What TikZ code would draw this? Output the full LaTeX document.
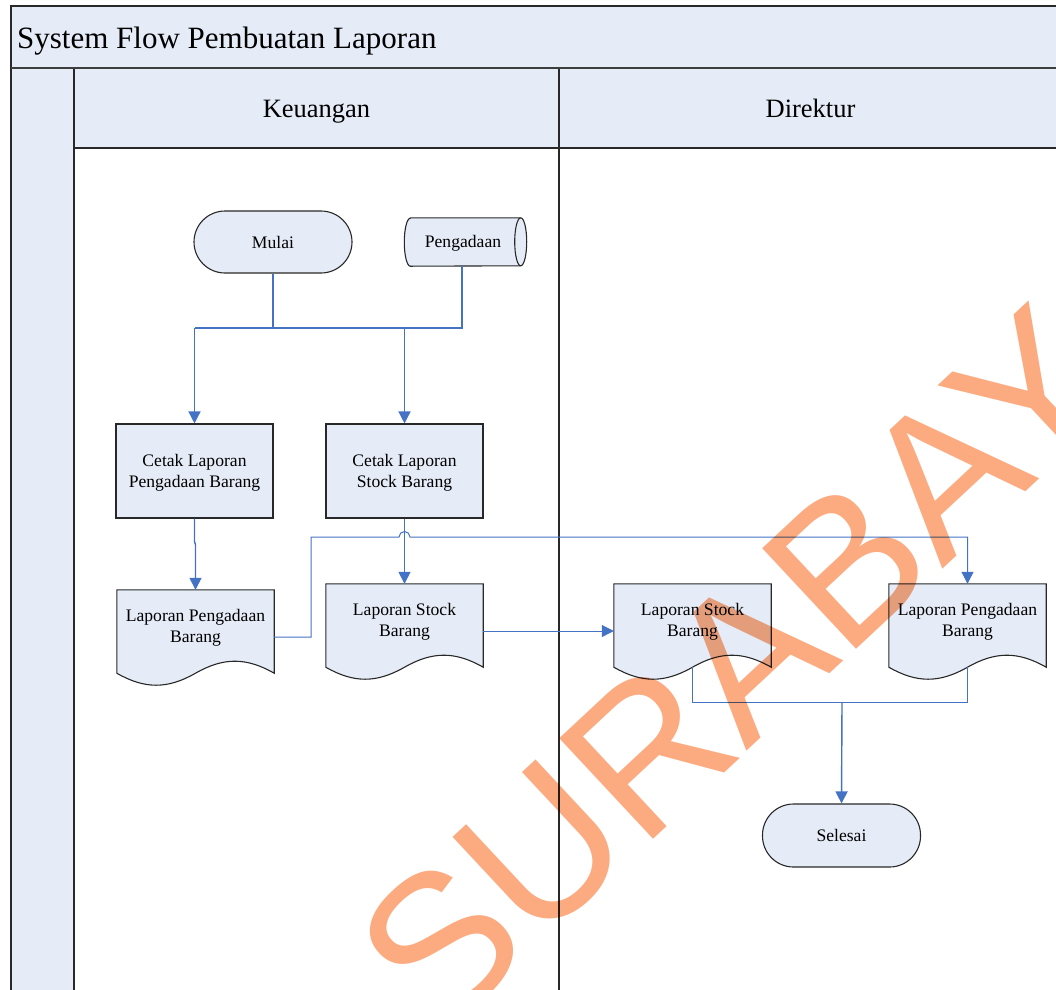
\documentclass[tikz,border=0pt]{standalone}
\usepackage{fontspec}
\setmainfont{Liberation Serif}
\newfontfamily\markfont{Liberation Sans}
\usetikzlibrary{arrows.meta}
\pgfdeclarelayer{lanes}
\pgfdeclarelayer{shapes}
\pgfsetlayers{lanes,shapes,main}

\definecolor{paneblue}{RGB}{230,236,247}
\definecolor{flowblue}{RGB}{68,114,196}
\definecolor{markorange}{RGB}{252,170,128}
\definecolor{rule}{RGB}{40,40,40}

% outline of a document symbol around a named node
\newcommand\docoutline[1]{%
  \draw[shapeline] (#1.north west) -- (#1.north east) -- (#1.south east)
    .. controls +(-28,-16) and +(28,-16) .. (#1.south)
    .. controls +(-28,16) and +(28,16) .. (#1.south west) -- cycle;}

\begin{document}
\begin{tikzpicture}[x=1pt,y=-1pt,
  font=\fontsize{17.6}{21}\selectfont,
  shapeline/.style={draw=rule,line width=1.1pt,fill=paneblue},
  procbox/.style={shapeline,minimum width=157,minimum height=94,align=center,inner sep=0pt,text depth=0pt},
  termbox/.style={shapeline,rounded corners=31pt,minimum width=158,minimum height=62,align=center,inner sep=0pt},
  docbox/.style={minimum width=157,minimum height=83,align=center,inner sep=0pt,text depth=12pt},
  storebox/.style={minimum width=110,minimum height=48,inner sep=0pt,text height=15pt},
  lanelabel/.style={font=\fontsize{26.5}{30}\selectfont,inner sep=0pt,anchor=base},
  flow/.style={draw=flowblue,line width=1.4pt},
  thinflow/.style={draw=flowblue,line width=1pt},
  tip/.style={-{Triangle[width=12pt,length=12pt]}}]

\useasboundingbox (0,0) rectangle (1056,989);
\clip (0,0) rectangle (1056,989);

% swimlane pool
\begin{pgfonlayer}{lanes}
  \fill[paneblue] (11,6) rectangle (1064,68);
  \fill[paneblue] (11,68) rectangle (74,995);
  \fill[paneblue] (74,68) rectangle (1064,148);
  \draw[rule,line width=1.4pt] (1064,6) -- (11,6) -- (11,995);
  \draw[rule,line width=1.2pt] (74,68) -- (74,995);
  \draw[rule,line width=1.2pt] (559,68) -- (559,995);
  \draw[rule,line width=1.2pt] (74,148) -- (1064,148);
  \draw[rule!90,line width=2.6pt] (11,68) -- (1064,68);
\end{pgfonlayer}

\node[anchor=base west,font=\fontsize{31}{36}\selectfont,inner sep=0pt] (title) at (17,48) {System Flow Pembuatan Laporan};
\node[lanelabel] (keu) at (316.5,117) {Keuangan};
\node[lanelabel] (dir) at (810.5,117) {Direktur};

% flow symbols
\node[termbox] (mulai) at (273,242) {Mulai};
\node[storebox] (store) at (463,242) {Pengadaan};
\node[procbox] (cetakP) at (194.5,471) {Cetak Laporan\\Pengadaan Barang};
\node[procbox] (cetakS) at (404.5,471) {Cetak Laporan\\Stock Barang};
\node[docbox] (lapP) at (195.5,631.5) {Laporan Pengadaan\\Barang};
\node[docbox] (lapS) at (404.5,625.5) {Laporan Stock\\Barang};
\node[docbox] (lapS2) at (692.5,625.5) {Laporan Stock\\Barang};
\node[docbox] (lapP2) at (967.5,625.5) {Laporan Pengadaan\\Barang};
\node[termbox,minimum height=63] (selesai) at (841.5,835.5) {Selesai};

\begin{pgfonlayer}{shapes}
  \draw[shapeline] ([xshift=2.5pt]store.north west) -- ([xshift=2.5pt]store.north east)
    arc[start angle=-90,end angle=90,x radius=6,y radius=24]
    -- ([xshift=2.5pt]store.south west)
    arc[start angle=90,end angle=270,x radius=6,y radius=24] -- cycle;
  \draw[draw=rule,line width=1.1pt] ([xshift=2.5pt]store.north east)
    arc[start angle=-90,end angle=-270,x radius=6,y radius=24];
  \docoutline{lapP}
  \docoutline{lapS}
  \docoutline{lapS2}
  \docoutline{lapP2}
\end{pgfonlayer}

% connectors
\coordinate (busL) at (194.5,328);
\coordinate (busR) at (462,328);
\coordinate (bend) at (311,537);
\coordinate (hop) at (404.5,537);
\coordinate (merge) at (842,702);

\draw[flow] (mulai.south) -- (mulai.south |- busL);
\draw[flow] (busR |- store.south) -- (busR) -- (busL);
\draw[flow,tip] (busL) -- (cetakP.north);
\draw[flow,tip] (cetakS.north |- busL) -- (cetakS.north);
\draw[flow,tip] (cetakP.south) -- ++(0,23) -- ++(1,3) -- (lapP.north);
\draw[flow,tip] (cetakS.south) -- (lapS.north);
\draw[thinflow,tip] ([yshift=-5.5pt]lapP.east) -| (bend) -- ([xshift=-5.5pt]hop)
  arc[start angle=180,end angle=360,radius=5.5] -| (lapP2.north);
\draw[thinflow,tip] ([yshift=-5.5pt]lapS.east) -- ([yshift=-5.5pt]lapS2.west);
\draw[thinflow] (lapS2.south) |- (merge) -| (lapP2.south);
\draw[flow,tip] (merge) -- (selesai.north);

% watermark
\begin{scope}[blend mode=multiply]
  \node[rotate=43,anchor=base west,inner sep=0pt,text=markorange,
        font=\markfont\fontsize{200}{200}\selectfont] (mark) at (438,1040) {SURABAYA};
\end{scope}
\end{tikzpicture}
\end{document}
